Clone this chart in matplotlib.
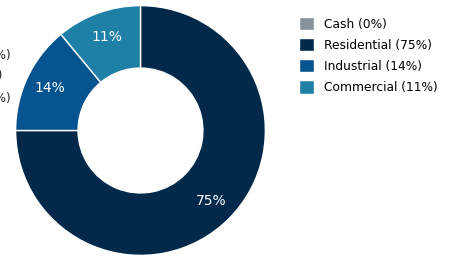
import matplotlib
matplotlib.use("Agg")
import matplotlib.pyplot as plt

# Datos
categorias = ["Cash", "Residential", "Industrial", "Commercial"]
valores = [0, 75, 14, 11]
colores = ["#8a9299", "#03294a", "#06548f", "#1e80a6"]
etiquetas_cortadas = ["(0%)", "0)", "(0%)"]

fig = plt.figure(figsize=(4.52, 2.68), dpi=100)
ax = fig.add_axes([15 / 452, 1 - 256 / 268, 251 / 452, 251 / 268])

def formato_pct(p):
    return f"{p:.0f}%" if p > 0.5 else ""

wedges, textos, autotextos = ax.pie(
    valores, colors=colores, startangle=90, counterclock=False,
    autopct=formato_pct, pctdistance=0.8,
    wedgeprops=dict(width=0.5, edgecolor="white", linewidth=1),
    textprops=dict(color="white", fontsize=10))
ax.set_xlim(-1.005, 1.005)
ax.set_ylim(-1.005, 1.005)
ax.set_aspect("equal")

# textos cortados en el borde izquierdo
for y, x, t in zip([55, 76, 98], [11, 3, 11], etiquetas_cortadas):
    fig.text(x / 452, 1 - y / 268, t, ha="right", va="center",
             fontsize=8.8, color="#222222")

leyenda = [f"{c} ({v}%)" for c, v in zip(categorias, valores)]
fig.legend(wedges, leyenda, loc="upper left", bbox_to_anchor=(288 / 452, 1 - 6 / 268),
           frameon=False, fontsize=8.8, handlelength=1.2, handleheight=1.3,
           handletextpad=0.85, labelspacing=0.6)

fig.savefig("out.png", dpi=100)
